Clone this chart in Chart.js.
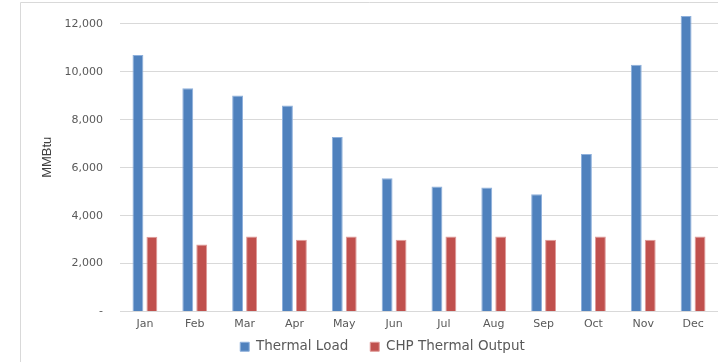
<!DOCTYPE html>
<html>
<head>
<meta charset="utf-8">
<script src="https://cdn.jsdelivr.net/npm/chart.js@4"></script>
<style>
  html, body { margin: 0; padding: 0; background: #ffffff; }
  #wrap { position: relative; width: 718px; height: 362px; }
  canvas { display: block; }
</style>
</head>
<body>
<div id="wrap"><canvas id="c" width="718" height="362"></canvas></div>
<script>
const categories = ["Jan","Feb","Mar","Apr","May","Jun","Jul","Aug","Sep","Oct","Nov","Dec"];
const thermalLoad = [10700, 9320, 9010, 8600, 7280, 5560, 5220, 5180, 4890, 6570, 10300, 12330];
const chpThermalOutput = [3120, 2800, 3130, 2990, 3130, 2990, 3130, 3130, 2990, 3130, 2990, 3130];
const seriesNames = ["Thermal Load", "CHP Thermal Output"];
const yTicks = [0, 2000, 4000, 6000, 8000, 10000, 12000];
const yAxisTitle = "MMBtu";

const LEFT_PAD = 47;
const PLOT_LEFT = 120;
const LEGEND_TOP = 318;

const framePlugin = {
  id: 'frame',
  afterLayout(chart) {
    const lg = chart.legend;
    if (lg) {
      const h = lg.bottom - lg.top;
      lg.top = LEGEND_TOP;
      lg.bottom = LEGEND_TOP + h;
    }
  },
  beforeDraw(chart) {
    const ctx = chart.ctx;
    ctx.save();
    ctx.strokeStyle = '#d9d9d9';
    ctx.lineWidth = 1;
    ctx.beginPath();
    ctx.moveTo(20.5, 362);
    ctx.lineTo(20.5, 2.5);
    ctx.lineTo(718, 2.5);
    ctx.stroke();
    ctx.restore();
  }
};

new Chart(document.getElementById('c'), {
  type: 'bar',
  data: {
    labels: categories,
    datasets: [
      {
        label: seriesNames[0],
        data: thermalLoad,
        backgroundColor: '#4F81BD',
        borderColor: '#8eb0dc',
        borderWidth: 1,
        categoryPercentage: 0.56,
        barPercentage: 0.78
      },
      {
        label: seriesNames[1],
        data: chpThermalOutput,
        backgroundColor: '#C0504D',
        borderColor: '#e09a98',
        borderWidth: 1,
        categoryPercentage: 0.56,
        barPercentage: 0.78
      }
    ]
  },
  options: {
    responsive: false,
    animation: false,
    devicePixelRatio: 1,
    layout: { padding: { left: LEFT_PAD, right: 0, top: 3, bottom: -19 } },
    plugins: {
      legend: {
        position: 'bottom',
        labels: {
          boxWidth: 9,
          boxHeight: 9,
          padding: 22,
          color: '#595959',
          font: { family: 'DejaVu Sans', size: 13.5 }
        }
      },
      tooltip: { enabled: false }
    },
    scales: {
      x: {
        grid: { display: false, drawTicks: false },
        border: { display: true, color: '#d9d9d9', width: 1 },
        ticks: {
          color: '#595959',
          padding: 6,
          maxRotation: 0,
          font: { family: 'DejaVu Sans', size: 11 }
        },
        afterFit(scale) { scale.height = 24; scale.paddingLeft = 0; scale.paddingRight = 0; }
      },
      y: {
        min: 0,
        max: 12875,
        afterBuildTicks(scale) {
          scale.ticks = yTicks.map(v => ({ value: v }));
        },
        afterFit(scale) {
          scale.width = PLOT_LEFT - LEFT_PAD;
          scale.paddingTop = 0;
          scale.paddingBottom = 0;
        },
        grid: { color: '#d9d9d9', lineWidth: 1, drawTicks: false },
        border: { display: false },
        ticks: {
          color: '#595959',
          padding: 17,
          font: { family: 'DejaVu Sans', size: 11 },
          callback(v) { return v === 0 ? '-' : Number(v).toLocaleString('en-US'); }
        },
        title: {
          display: true,
          text: yAxisTitle,
          color: '#404040',
          padding: { top: -7, bottom: 0 },
          font: { family: 'Liberation Sans', size: 13 }
        }
      }
    }
  },
  plugins: [framePlugin]
});
</script>
</body>
</html>
